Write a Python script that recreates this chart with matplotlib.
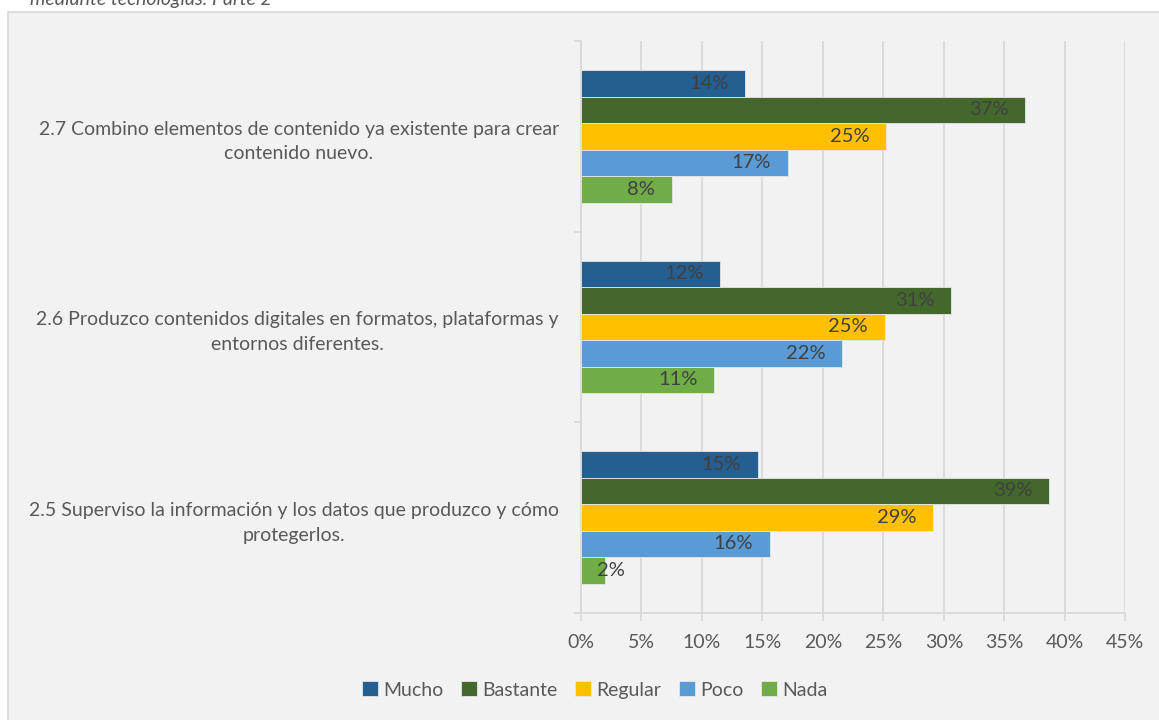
import matplotlib.pyplot as plt
import matplotlib.patches as patches
import numpy as np

plt.rcParams['font.family'] = ['Lato', 'DejaVu Sans']

# preguntas (de abajo hacia arriba) y porcentajes por respuesta
preguntas = ['2.5 Superviso la información y los datos que produzco y cómo\nprotegerlos.',
             '2.6 Produzco contenidos digitales en formatos, plataformas y\nentornos diferentes.',
             '2.7 Combino elementos de contenido ya existente para crear\ncontenido nuevo.']
series = ['Mucho', 'Bastante', 'Regular', 'Poco', 'Nada']
mucho = [14.6, 11.5, 13.6]
bastante = [38.7, 30.6, 36.7]
regular = [29.1, 25.1, 25.2]
poco = [15.6, 21.6, 17.1]
nada = [2.0, 11.0, 7.5]
colores = ['#255E91', '#43682B', '#FFC000', '#5B9BD5', '#70AD47']

W, H = 1159, 720
fig = plt.figure(figsize=(W / 100, H / 100), dpi=100, facecolor='white')

# marco gris del grafico
marco = patches.Rectangle((8 / W, -0.01), 1.0, (H - 12) / H + 0.01, transform=fig.transFigure,
                          facecolor='#F2F2F2', edgecolor='#D9D9D9', linewidth=1.2, zorder=-5)
fig.patches.append(marco)

fig.text(30 / W, 1 - 5 / H, 'mediante tecnologías. Parte 2', style='italic', fontsize=14,
         color='#595959', va='baseline', ha='left')

ax = fig.add_axes([581 / W, (H - 612.7) / H, 544.3 / W, 571.7 / H])
ax.set_facecolor('none')
ax.set_zorder(2)

h = 0.139
ypos = np.arange(len(preguntas))
datos = [mucho, bastante, regular, poco, nada]
for i, (nombre, vals, c) in enumerate(zip(series, datos, colores)):
    yy = ypos + (2 - i) * h
    ax.barh(yy, vals, height=h, color=c, edgecolor='#E6E6E6', linewidth=0.6, label=nombre, zorder=3)
    for y, v in zip(yy, vals):
        txt = '{:.0f}%'.format(v)
        if v < 4:
            ax.annotate(txt, (0, y), xytext=(11.5, 0), textcoords='offset points',
                        ha='left', va='center', fontsize=14.5, color='#404040', zorder=4)
        else:
            ax.annotate(txt, (v, y), xytext=(-12, 0), textcoords='offset points',
                        ha='right', va='center', fontsize=14.5, color='#404040', zorder=4)

ax.set_xlim(0, 45)
ax.set_ylim(-0.5, 2.5)
ax.set_xticks(np.arange(0, 46, 5))
ax.set_xticklabels(['{}%'.format(t) for t in range(0, 46, 5)])
ax.grid(axis='x', color='#D9D9D9', linewidth=1.3, zorder=1)
ax.set_axisbelow(True)

ax.set_yticks(ypos)
ax.set_yticklabels(preguntas, multialignment='center', linespacing=1.55)
ax.set_yticks([-0.5, 0.5, 1.5, 2.5], minor=True)
ax.tick_params(axis='y', which='major', length=0, pad=16, labelsize=14, labelcolor='#595959')
ax.tick_params(axis='y', which='minor', length=5, color='#D9D9D9', width=1.3)
ax.tick_params(axis='x', length=6, color='#D9D9D9', width=1.3, pad=9,
               labelsize=14, labelcolor='#595959')

for s in ['top', 'right']:
    ax.spines[s].set_visible(False)
for s in ['left', 'bottom']:
    ax.spines[s].set_color('#D9D9D9')
    ax.spines[s].set_linewidth(1.3)

fig.legend(loc='center', bbox_to_anchor=(595 / W, 1 - 690 / H), ncol=5, frameon=False,
           fontsize=14, labelcolor='#595959', handlelength=0.8, handleheight=0.8,
           handletextpad=0.3, columnspacing=0.9)

fig.savefig('out.png', dpi=100, facecolor=fig.get_facecolor())
